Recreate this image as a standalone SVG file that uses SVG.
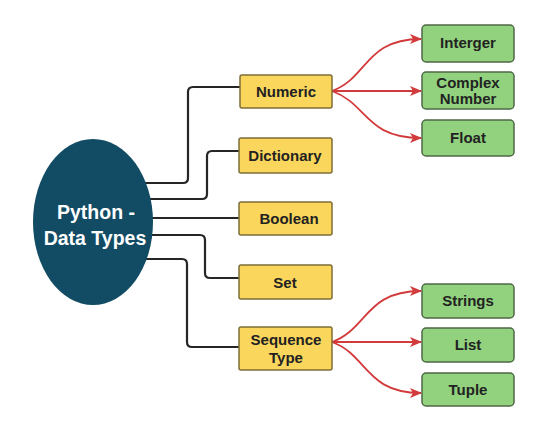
<svg xmlns="http://www.w3.org/2000/svg" width="541" height="423" viewBox="0 0 541 423">
<defs>
<marker id="arr" viewBox="0 0 12 10" refX="11" refY="5" markerWidth="12" markerHeight="10" markerUnits="userSpaceOnUse" orient="auto">
<path d="M0,0 L12,5 L0,10 L3,5 Z" fill="#d23b3b"/>
</marker>
</defs>
<style>
text{font-family:"Liberation Sans",Arial,sans-serif;font-weight:bold;text-anchor:middle;}
.y{fill:#fad65c;stroke:#7d6d38;stroke-width:1.5;}
.g{fill:#92d27e;stroke:#4d6846;stroke-width:1.5;}
.t{font-size:15px;fill:#222222;}
.k{fill:none;stroke:#262626;stroke-width:2.2;}
.r{fill:none;stroke:#d23b3b;stroke-width:1.8;marker-end:url(#arr);}
</style>
<rect width="541" height="423" fill="#ffffff"/>
<g id="connectors">
<path class="k" d="M140,183 H183 Q188,183 188,178 V92 Q188,87 193,87 H240"/>
<path class="k" d="M140,199 H202 Q207,199 207,194 V156 Q207,151 212,151 H239"/>
<path class="k" d="M140,218 H239"/>
<path class="k" d="M140,235 H200 Q205,235 205,240 V273 Q205,278 210,278 H239"/>
<path class="k" d="M140,259 H182 Q187,259 187,264 V342 Q187,347 192,347 H239"/>
<path class="r" d="M332,91 C368,78 365,39 421,39"/>
<path class="r" d="M332,91 H421"/>
<path class="r" d="M332,91 C368,104 365,138 421,138"/>
<path class="r" d="M332,342 C368,329 365,291 421,291"/>
<path class="r" d="M332,342 H421"/>
<path class="r" d="M332,342 C368,355 365,393 421,393"/>
</g>
<g id="python">
<ellipse cx="93" cy="222" rx="60" ry="83" fill="#124c64"/>
<text x="96" y="219" font-size="19.5" fill="#ffffff">Python -</text>
<text x="95" y="245" font-size="19.5" fill="#ffffff">Data Types</text>
</g>
<g id="numeric"><rect class="y" x="240" y="75" width="92" height="33" rx="2"/><text class="t" x="286" y="97">Numeric</text></g>
<g id="dictionary"><rect class="y" x="239" y="138" width="93" height="35" rx="2"/><text class="t" x="285" y="161">Dictionary</text></g>
<g id="boolean"><rect class="y" x="239" y="202" width="93" height="33" rx="2"/><text class="t" x="289" y="224">Boolean</text></g>
<g id="set"><rect class="y" x="239" y="265" width="93" height="34" rx="2"/><text class="t" x="285" y="288">Set</text></g>
<g id="sequence"><rect class="y" x="239" y="327" width="93" height="43" rx="2"/><text class="t" x="286" y="345">Sequence</text><text class="t" x="286" y="363">Type</text></g>
<g id="integer"><rect class="g" x="422" y="25" width="92" height="37" rx="4"/><text class="t" x="468" y="48">Interger</text></g>
<g id="complex"><rect class="g" x="422" y="72" width="92" height="37" rx="4"/><text class="t" x="468" y="88">Complex</text><text class="t" x="468" y="104">Number</text></g>
<g id="float"><rect class="g" x="422" y="120" width="92" height="36" rx="4"/><text class="t" x="468" y="143">Float</text></g>
<g id="strings"><rect class="g" x="422" y="284" width="92" height="34" rx="4"/><text class="t" x="468" y="306">Strings</text></g>
<g id="list"><rect class="g" x="422" y="328" width="92" height="34" rx="4"/><text class="t" x="468" y="350">List</text></g>
<g id="tuple"><rect class="g" x="422" y="373" width="92" height="33" rx="4"/><text class="t" x="468" y="395">Tuple</text></g>
</svg>
